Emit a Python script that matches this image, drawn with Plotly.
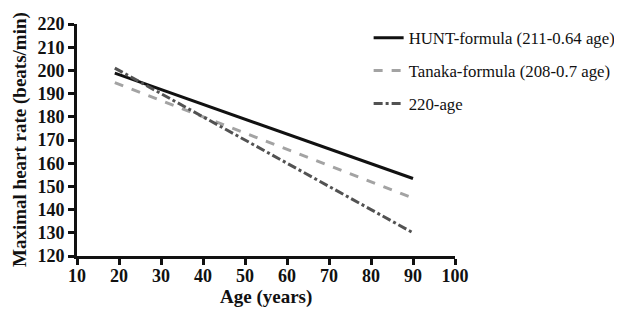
import plotly.graph_objects as go

ages = [19, 90]
hunt = [198.8, 153.4]
tanaka = [194.7, 145.0]
classic = [201.0, 130.0]
names = ["HUNT-formula (211-0.64 age)", "Tanaka-formula (208-0.7 age)", "220-age"]
x_ticks = [10, 20, 30, 40, 50, 60, 70, 80, 90, 100]
y_ticks = [120, 130, 140, 150, 160, 170, 180, 190, 200, 210, 220]
x_title = "Age (years)"
y_title = "Maximal heart rate (beats/min)"

serif = "Liberation Serif"
ink = "#111111"

fig = go.Figure()
fig.add_trace(go.Scatter(x=ages, y=hunt, mode="lines", name=names[0], legendgroup="a",
                         line=dict(color=ink, width=3, dash="solid")))
fig.add_trace(go.Scatter(x=ages, y=tanaka, mode="lines", name=names[1], legendgroup="b",
                         line=dict(color="#a3a3a3", width=3, dash="dash")))
fig.add_trace(go.Scatter(x=ages, y=classic, mode="lines", name=names[2], legendgroup="c",
                         line=dict(color="#525252", width=3, dash="dashdot")))

axis_common = dict(showgrid=False, zeroline=False, showline=True, linecolor=ink,
                   linewidth=3, ticks="outside", ticklen=6, tickwidth=3, tickcolor=ink,
                   automargin=False,
                   tickfont=dict(family=serif, size=18, color=ink, weight="bold"))

fig.update_xaxes(range=[10, 100], tickvals=x_ticks, ticklabelstandoff=-5, **axis_common)
fig.update_yaxes(range=[120, 220], tickvals=y_ticks, **axis_common)

title_font = dict(family=serif, size=19, color=ink, weight="bold")
fig.add_annotation(text=x_title, xref="paper", yref="paper", x=0.5, y=0,
                   xanchor="center", yanchor="middle", yshift=-41, showarrow=False,
                   font=title_font)
fig.add_annotation(text=y_title, xref="paper", yref="paper", x=0, y=0.5,
                   xanchor="center", yanchor="middle", xshift=-57, textangle=-90,
                   showarrow=False, font=title_font)

fig.update_layout(
    width=640, height=304,
    margin=dict(l=69, r=193, t=13, b=56),
    plot_bgcolor="white", paper_bgcolor="white",
    legend=dict(x=0.7715, y=1.016, xanchor="left", yanchor="top",
                font=dict(family=serif, size=16.8, color=ink),
                tracegroupgap=8, itemwidth=30, bgcolor="rgba(0,0,0,0)"),
)

fig.write_html("out.html")
